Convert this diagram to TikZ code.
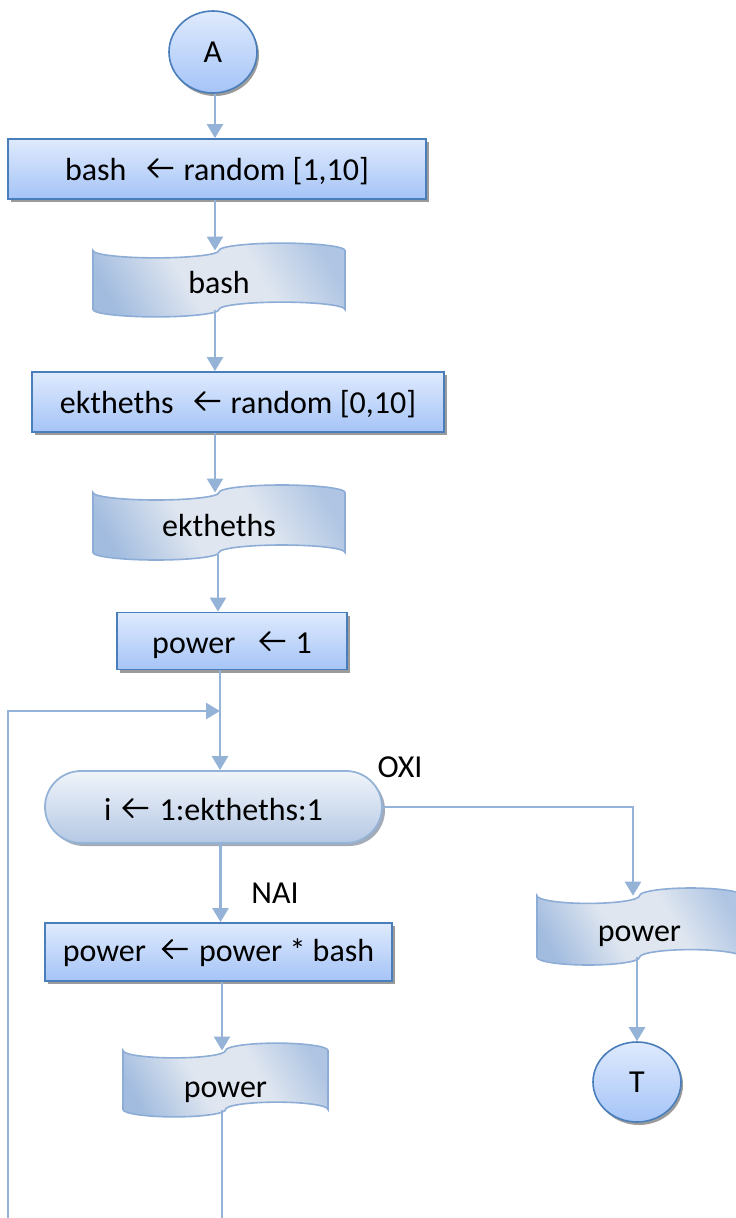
\documentclass[tikz,border=0pt]{standalone}
\usepackage{fontspec}
\setmainfont{Carlito}
\usetikzlibrary{arrows.meta,shapes.geometric,shapes.misc,backgrounds,calc,shadows}

\definecolor{boxborder}{HTML}{4A7EBB}
\definecolor{boxtop}{HTML}{DFEAFD}
\definecolor{boxbottom}{HTML}{A5C4F7}
\definecolor{shadowgray}{HTML}{9B9B9B}
\definecolor{linkblue}{HTML}{95B3D7}
\definecolor{tapeborder}{HTML}{8EADD6}
\definecolor{tapein}{HTML}{DFE6F0}
\definecolor{tapeout}{HTML}{A2BCDF}
\definecolor{tapeend}{HTML}{AFC5E3}
\definecolor{tapeshadow}{HTML}{7F93AF}
\definecolor{looptop}{HTML}{F0F4FA}
\definecolor{loopbottom}{HTML}{B5C8E4}
\definecolor{loopshadow}{HTML}{A3ABB8}

% diagonal light band across the punched tapes
\pgfdeclarehorizontalshading{tapeshade}{100bp}{%
  color(0bp)=(tapeout); color(22bp)=(tapeout); color(42bp)=(tapein);
  color(60bp)=(tapein); color(78bp)=(tapeend); color(100bp)=(tapeend)}

% open left arrow used inside the assignments
\newcommand\assignarrow{\tikz[baseline=-12pt, x=1pt, y=1pt, sharp corners]{%
  \draw[black, line width=2.1pt, line cap=round, line join=miter]
  (9,9) -- (0,0) -- (9,-9) (0,0) -- (24,0);}}

% text with its baseline set a given distance below the node centre
\newcommand\lowered[2]{\raisebox{-#1}[0pt][0pt]{#2}}

% punched-tape outline around a node: #1 node, #2 path options
\newcommand\punchtape[2]{%
  \path[#2] let \p1=(#1.north west), \p2=(#1.south east),
     \n1={(\x2-\x1)/4}, \n2={(\y1-\y2)/8} in
    (\x1,\y1) arc[start angle=180, end angle=360, x radius=\n1, y radius=\n2]
              arc[start angle=180, end angle=0, x radius=\n1, y radius=\n2]
    -- (\x2,\y2) arc[start angle=0, end angle=180, x radius=\n1, y radius=\n2]
              arc[start angle=0, end angle=-180, x radius=\n1, y radius=\n2]
    -- cycle;}

\begin{document}
\begin{tikzpicture}[x=1pt,y=1pt,
  txt/.style={font=\fontsize{32pt}{38pt}\selectfont, text=black},
  procbox/.style={txt, rectangle, draw=boxborder, line width=1.8pt,
    top color=boxtop, bottom color=boxbottom, inner sep=0pt,
    drop shadow={shadow xshift=3pt, shadow yshift=-3pt, fill=shadowgray, draw=none, opacity=1}},
  terminal/.style={txt, ellipse, draw=boxborder, line width=1.6pt,
    top color=boxtop, bottom color=boxbottom, inner sep=0pt,
    minimum width=88pt, minimum height=82pt,
    drop shadow={shadow xshift=2pt, shadow yshift=-3pt, fill=shadowgray, draw=none, opacity=1}},
  loopbox/.style={txt, rounded rectangle, draw=linkblue, line width=1.8pt,
    top color=looptop, bottom color=loopbottom, inner sep=0pt,
    drop shadow={shadow xshift=3pt, shadow yshift=-3pt, fill=loopshadow, draw=none, opacity=1}},
  tapebox/.style={txt, rectangle, inner sep=0pt, outer sep=0pt},
  label/.style={txt},
  link/.style={draw=linkblue, line width=2.6pt},
  flow/.style={link, -{Triangle[width=16pt,length=14pt]}},
]
\useasboundingbox (0,0) rectangle (736,-1218);
\clip (0,0) rectangle (736,-1218);

% nodes
\node[terminal] (A) at (213,-52) {A};
\node[procbox, minimum width=418pt, minimum height=60pt] (r1) at (217,-169)
  {\lowered{11pt}{bash\hspace{21pt}\assignarrow\hspace{10pt}random [1,10]}};
\node[tapebox, minimum width=252pt, minimum height=59pt] (d1) at (219,-280)
  {\lowered{13pt}{bash}};
\node[procbox, minimum width=412pt, minimum height=60pt] (r2) at (238,-402)
  {\lowered{11pt}{ektheths\hspace{21pt}\assignarrow\hspace{10pt}random [0,10]}};
\node[tapebox, minimum width=252pt, minimum height=60pt] (d2) at (219,-522.5)
  {\lowered{14pt}{ektheths}};
\node[procbox, minimum width=230pt, minimum height=57pt] (r3) at (232,-641)
  {\lowered{12pt}{power\hspace{24pt}\assignarrow\hspace{10pt}1}};
\node[loopbox, minimum width=337pt, minimum height=72pt] (L) at (213.5,-807)
  {\lowered{13pt}{i\hspace{11pt}\assignarrow\hspace{11pt}1:ektheths:1}};
\node[procbox, minimum width=347pt, minimum height=58pt] (r4) at (218.5,-952)
  {\lowered{9pt}{power\hspace{16pt}\assignarrow\hspace{11pt}power * bash}};
\node[tapebox, minimum width=205pt, minimum height=61.6pt] (d3) at (639.5,-926.5)
  {\lowered{15pt}{power}};
\node[tapebox, minimum width=205pt, minimum height=59pt] (d4) at (225.5,-1080)
  {\lowered{17pt}{power}};
\node[terminal, minimum height=80pt] (T) at (637,-1082) {T};

\node[label] (oxi) at (400,-767) {OXI};
\node[label] (nai) at (275,-893) {NAI};

% punched-tape outputs behind their texts
\begin{scope}[on background layer]
  \foreach \tp in {d1,d2,d3,d4}{
    \punchtape{\tp}{fill=tapeshadow, shift={(2pt,-3.5pt)}}
    \punchtape{\tp}{shade, shading=tapeshade, shading angle=30,
      draw=tapeborder, line width=1.6pt}
  }
\end{scope}

% loop ends
\coordinate (loopfoot) at (8,-1218);
\coordinate (loopjoin) at (220,-711);
\coordinate (exitfoot) at (222,-1218);

% connectors
\draw[flow] ([xshift=2pt]A.south) -- ([xshift=2pt]A.south |- r1.north);
\draw[flow] ([xshift=-2pt]r1.south) -- ([xshift=-2pt]r1.south |- d1.north);
\draw[flow] ([xshift=-4pt]d1.south) -- ([xshift=-4pt]d1.south |- r2.north);
\draw[flow] ([xshift=-4pt]d2.north |- r2.south) -- ([xshift=-4pt]d2.north);
\draw[flow] ([xshift=-1pt]d2.south) -- ([xshift=-1pt]d2.south |- r3.north);
\draw[flow] ([xshift=6.5pt]L.north |- r3.south) -- ([xshift=6.5pt]L.north);
\draw[flow] (loopfoot) |- (loopjoin);
\draw[flow] (L.east) -| ([xshift=-6.5pt]d3.north);
\draw[flow] ([xshift=7pt]L.south) -- ([xshift=7pt]L.south |- r4.north);
\draw[flow] ([xshift=-3.5pt]d4.north |- r4.south) -- ([xshift=-3.5pt]d4.north);
\draw[link] ([xshift=-3.5pt]d4.south) -- (exitfoot);
\draw[flow] (T.north |- d3.south) -- (T.north);
\end{tikzpicture}
\end{document}
